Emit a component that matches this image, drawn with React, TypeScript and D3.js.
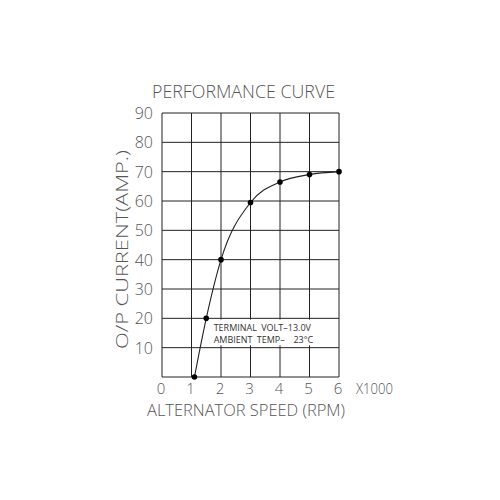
import React from "react";
import * as d3 from "d3";

const rpm = [1.1, 1.5, 2, 3, 4, 5, 6];
const current = [0, 20, 40, 59.5, 66.5, 69, 70];
const xTicks = [0, 1, 2, 3, 4, 5, 6];
const yTicks = [10, 20, 30, 40, 50, 60, 70, 80, 90];
const gridY = [0, 10, 20, 30, 40, 50, 60, 70, 80, 90];
const titleText = "PERFORMANCE CURVE";
const xLabel = "ALTERNATOR SPEED (RPM)";
const yLabel = "O/P CURRENT(AMP.)";
const xUnit = "X1000";
const noteLines = ["TERMINAL VOLT\u201313.0V", "AMBIENT TEMP\u2013  23\u00b0C"];

export default function App() {
  const x = d3.scaleLinear().domain([0, 6]).range([162, 339]);
  const y = d3.scaleLinear().domain([0, 90]).range([377, 113]);
  const pts = rpm.map((r, i) => [r, current[i]] as [number, number]);
  const line = d3
    .line<[number, number]>()
    .x((d) => x(d[0]))
    .y((d) => y(d[1]))
    .curve(d3.curveMonotoneX);
  const font = "'Open Sans', 'DejaVu Sans', sans-serif";
  const tc = "#555";
  const gc = "#222";
  return (
    <div style={{ position: "absolute", left: 0, top: 0 }}>
      <svg width={500} height={500} style={{ display: "block", background: "#fff" }}>
        <rect width={500} height={500} fill="#fff" />
        {/* grid */}
        {xTicks.map((t) => (
          <line key={"gx" + t} x1={x(t)} x2={x(t)} y1={y(0)} y2={y(90)} stroke={gc} strokeWidth={1} />
        ))}
        {gridY.map((t) => (
          <line key={"gy" + t} x1={x(0)} x2={x(6)} y1={y(t)} y2={y(t)} stroke={gc} strokeWidth={1} />
        ))}
        {/* annotation box */}
        <rect x={x(1.58)} y={y(19.6)} width={x(5.55) - x(1.58)} height={y(10.8) - y(19.6)} fill="#fff" />
        {noteLines.map((s, i) => (
          <text
            key={"n" + i}
            x={x(1.75)}
            y={y(15.6) + i * 11.5}
            fontFamily={font}
            fontSize={9}
            fill="#333"
            wordSpacing={2}
            style={{ whiteSpace: "pre" }}
          >
            {s}
          </text>
        ))}
        {/* curve */}
        <path d={line(pts) || ""} fill="none" stroke="#222" strokeWidth={1.1} />
        {pts.map((p, i) => (
          <circle key={"p" + i} cx={x(p[0])} cy={y(p[1])} r={2.8} fill="#000" />
        ))}
        {/* y tick labels */}
        {yTicks.map((t) => (
          <text
            key={"yl" + t}
            x={153}
            y={y(t) + 6}
            textAnchor="end"
            fontFamily={font}
            fontSize={16}
            fontWeight={300}
            fill={tc}
          >
            {t}
          </text>
        ))}
        {/* x tick labels */}
        {xTicks.map((t) => (
          <text
            key={"xl" + t}
            x={x(t) - 1}
            y={394}
            textAnchor="middle"
            fontFamily={font}
            fontSize={15}
            fontWeight={300}
            fill={tc}
          >
            {t}
          </text>
        ))}
        <text
          x={356}
          y={394}
          fontFamily={font}
          fontSize={14}
          fontWeight={300}
          fill={tc}
          textLength={37}
          lengthAdjust="spacingAndGlyphs"
        >
          {xUnit}
        </text>
        {/* title */}
        <text
          x={152}
          y={98}
          fontFamily={font}
          fontSize={18}
          fontWeight={300}
          fill={tc}
          textLength={183}
          lengthAdjust="spacingAndGlyphs"
        >
          {titleText}
        </text>
        {/* x label */}
        <text
          x={147}
          y={416}
          fontFamily={font}
          fontSize={16}
          fontWeight={300}
          fill={tc}
          textLength={198}
          lengthAdjust="spacingAndGlyphs"
        >
          {xLabel}
        </text>
        {/* y label */}
        <text
          transform="translate(128,349) rotate(-90)"
          x={0}
          y={0}
          fontFamily={font}
          fontSize={17}
          fontWeight={300}
          fill={tc}
          textLength={199}
          lengthAdjust="spacingAndGlyphs"
        >
          {yLabel}
        </text>
      </svg>
    </div>
  );
}
